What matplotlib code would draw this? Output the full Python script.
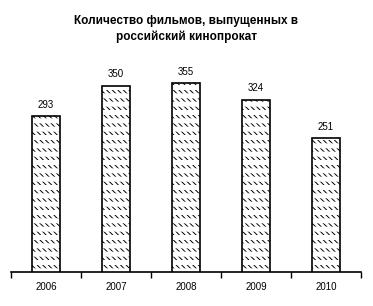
import matplotlib
matplotlib.use('Agg')
import matplotlib.pyplot as plt
import numpy as np

years = ['2006', '2007', '2008', '2009', '2010']
films = [293, 350, 355, 324, 251]

plt.rcParams['font.family'] = ['Liberation Sans', 'DejaVu Sans']

fig = plt.figure(figsize=(3.73, 3.06), dpi=100)
ax = fig.add_axes([0.0295, 0.111, 0.938, 0.696])

ind = np.arange(len(films))
width = 0.4

# dashed diagonal pattern: black diagonals cut into rows by white lines
with plt.rc_context({'hatch.linewidth': 0.7}):
    ax.bar(ind, films, width, color='white', edgecolor='black', linewidth=0,
           hatch='\\\\\\\\\\\\', zorder=2)
with plt.rc_context({'hatch.linewidth': 3.6}):
    ax.bar(ind, films, width, color='none', edgecolor='white', linewidth=0,
           hatch='--', zorder=3)
ax.bar(ind, films, width, color='none', edgecolor='black', linewidth=1.2, zorder=4)

for i, v in enumerate(films):
    ax.text(ind[i], v + 12, str(v), ha='center', va='bottom', fontsize=7)

ax.set_xlim(-0.5, len(films) - 0.5)
ax.set_ylim(0, 400)
ax.set_xticks(ind)
ax.set_xticklabels(years, fontsize=7)
ax.set_xticks(np.arange(len(films) + 1) - 0.5, minor=True)
ax.tick_params(axis='x', which='major', length=0, pad=7)
ax.tick_params(axis='x', which='minor', length=4, width=1, direction='out')
ax.set_yticks([])
for s in ['top', 'right', 'left']:
    ax.spines[s].set_visible(False)
ax.spines['bottom'].set_linewidth(1.2)

fig.text(0.5, 0.905, 'Количество фильмов, выпущенных в\nроссийский кинопрокат',
         ha='center', va='center', fontsize=8.5, fontweight='bold', linespacing=1.35)

plt.savefig('out.png', dpi=100)
